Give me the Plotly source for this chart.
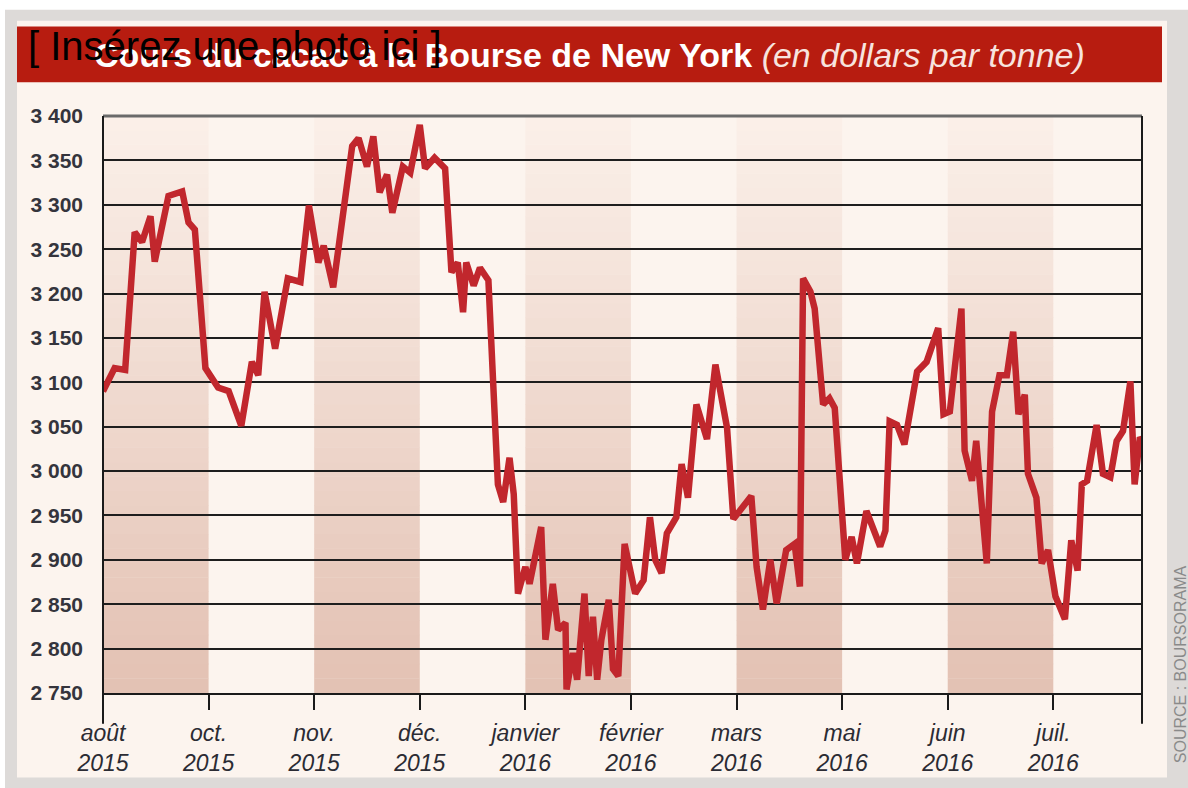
import plotly.graph_objects as go

# ---------------- data ----------------
# x position in "month-tick units" (0 = août 2015 tick, 9 = juil. 2016 tick)
x_pos = [0.00, 0.11, 0.21, 0.30, 0.37, 0.45, 0.49, 0.62, 0.75, 0.81, 0.87, 0.97,
         1.09, 1.19, 1.31, 1.41, 1.47, 1.53, 1.63, 1.75, 1.87, 1.95, 2.04, 2.09,
         2.18, 2.29, 2.36, 2.42, 2.50, 2.56, 2.62, 2.69, 2.74, 2.84, 2.91, 3.00,
         3.05, 3.14, 3.24, 3.30, 3.36, 3.41, 3.44, 3.51, 3.57, 3.65, 3.74, 3.79,
         3.85, 3.89, 3.93, 4.00, 4.04, 4.15, 4.19, 4.26, 4.31, 4.38, 4.39, 4.45,
         4.49, 4.56, 4.60, 4.64, 4.68, 4.72, 4.79, 4.83, 4.88, 4.94, 5.04, 5.12,
         5.18, 5.23, 5.29, 5.34, 5.43, 5.48, 5.54, 5.62, 5.72, 5.80, 5.91, 5.97,
         6.14, 6.19, 6.25, 6.32, 6.38, 6.47, 6.55, 6.60, 6.63, 6.70, 6.74, 6.82,
         6.88, 6.93, 7.03, 7.09, 7.14, 7.23, 7.36, 7.41, 7.45, 7.52, 7.59, 7.71,
         7.80, 7.91, 7.96, 8.02, 8.13, 8.16, 8.23, 8.27, 8.37, 8.42, 8.49, 8.56,
         8.62, 8.67, 8.73, 8.76, 8.84, 8.89, 8.95, 9.02, 9.11, 9.17, 9.23, 9.27,
         9.32, 9.41, 9.47, 9.54, 9.60, 9.66, 9.73, 9.77, 9.82, 9.87]
price = [3090, 3116, 3114, 3269, 3258, 3287, 3236, 3310, 3315, 3280, 3272, 3116,
         3094, 3090, 3051, 3123, 3108, 3202, 3138, 3217, 3213, 3299, 3235, 3254,
         3207, 3302, 3366, 3375, 3343, 3377, 3314, 3334, 3291, 3343, 3336, 3390,
         3341, 3353, 3341, 3224, 3235, 3179, 3235, 3209, 3229, 3215, 2985, 2965,
         3015, 2974, 2862, 2892, 2873, 2937, 2810, 2873, 2821, 2829, 2754, 2795,
         2765, 2862, 2769, 2836, 2765, 2810, 2855, 2777, 2769, 2918, 2862, 2877,
         2948, 2900, 2885, 2930, 2948, 3008, 2970, 3075, 3036, 3120, 3049, 2946,
         2972, 2892, 2844, 2900, 2851, 2911, 2918, 2870, 3217, 3202, 3183, 3075,
         3082, 3071, 2900, 2926, 2896, 2955, 2915, 2933, 3056, 3052, 3030, 3112,
         3123, 3161, 3064, 3067, 3183, 3023, 2989, 3034, 2896, 3067, 3108, 3108,
         3157, 3064, 3086, 2997, 2970, 2896, 2911, 2859, 2833, 2922, 2888, 2985,
         2989, 3052, 2997, 2993, 3034, 3045, 3101, 2985, 3038, 3030]

month_ticks = [0, 1, 2, 3, 4, 5, 6, 7, 8, 9]
month_labels = ["août<br>2015", "oct.<br>2015", "nov.<br>2015", "déc.<br>2015",
                "janvier<br>2016", "février<br>2016", "mars<br>2016", "mai<br>2016",
                "juin<br>2016", "juil.<br>2016"]
y_ticks = [2750, 2800, 2850, 2900, 2950, 3000, 3050, 3100, 3150, 3200, 3250,
           3300, 3350, 3400]
y_labels = [f"{v // 1000} {v % 1000:03d}" for v in y_ticks]

X_MAX = 9.84
Y_MIN, Y_MAX = 2750, 3400

# ---------------- layout helpers ----------------
W, H = 1188, 788
L, R, T, B = 103, 1142, 116, 697


def px(xp):
    return (xp - L) / (R - L)


def py(yp):
    return (B - yp) / (B - T)


shapes = []
# outer grey frame
shapes.append(dict(type="rect", xref="paper", yref="paper", x0=px(5), x1=px(W + 5),
                   y0=py(9), y1=py(H + 5), fillcolor="#dddad8", line_width=0, layer="below"))
# cream panel
shapes.append(dict(type="rect", xref="paper", yref="paper", x0=px(17), x1=px(1167),
                   y0=py(20), y1=py(782), fillcolor="#fcf4ee", line_width=0, layer="below"))
# red title bar
shapes.append(dict(type="rect", xref="paper", yref="paper", x0=px(17), x1=px(1162),
                   y0=py(26), y1=py(82), fillcolor="#b71c10", line_width=0, layer="below"))

# shaded gradient bands (every other month interval)
N = 40
c_bot = (227, 193, 179)
c_top = (251, 240, 233)
for i in range(0, len(month_ticks) - 1, 2):
    x0, x1 = month_ticks[i], month_ticks[i + 1]
    for k in range(N):
        t = (k + 0.5) / N
        col = tuple(round(c_bot[j] + (c_top[j] - c_bot[j]) * t) for j in range(3))
        shapes.append(dict(type="rect", xref="x", yref="y", x0=x0, x1=x1,
                           y0=Y_MIN + (Y_MAX - Y_MIN) * k / N,
                           y1=Y_MIN + (Y_MAX - Y_MIN) * (k + 1) / N + 0.5,
                           fillcolor=f"rgb{col}", line_width=0, layer="below"))

# top grey border line
shapes.append(dict(type="line", xref="paper", yref="paper", x0=0, x1=1, y0=1, y1=1,
                   line=dict(color="#6a6a6a", width=3), layer="above"))
# left / right vertical borders extending below the axis
for xv in (0, 1):
    shapes.append(dict(type="line", xref="paper", yref="paper", x0=xv, x1=xv,
                       y0=py(728), y1=1, line=dict(color="#1a1a1a", width=2)))

annotations = [
    dict(xref="paper", yref="paper", x=px(92), y=py(55), xanchor="left", yanchor="middle",
         showarrow=False,
         text="<b>Cours du cacao à la Bourse de New York</b> "
              "<span style='color:#f7e4df'><i>(en dollars par tonne)</i></span>",
         font=dict(family="Liberation Sans, Arial, sans-serif", size=34, color="#ffffff")),
    dict(xref="paper", yref="paper", x=px(26), y=py(46), xanchor="left", yanchor="middle",
         showarrow=False, text="[ Insérez une photo ici ]",
         font=dict(family="Liberation Sans, Arial, sans-serif", size=40, color="#000000")),
    dict(xref="paper", yref="paper", x=px(1180), y=py(668), xanchor="center", yanchor="middle",
         showarrow=False, textangle=-90, text="SOURCE : BOURSORAMA",
         font=dict(family="Liberation Sans, Arial, sans-serif", size=16, color="#8a8a8a")),
]

fig = go.Figure()
fig.add_trace(go.Scatter(x=x_pos, y=price, mode="lines",
                         line=dict(color="#c1272d", width=6.5),
                         hoverinfo="skip", showlegend=False))

fig.update_layout(
    width=W, height=H,
    margin=dict(l=L, r=W - R, t=T, b=H - B, pad=0),
    paper_bgcolor="#ffffff",
    plot_bgcolor="rgba(0,0,0,0)",
    shapes=shapes,
    annotations=annotations,
    showlegend=False,
    xaxis=dict(range=[0, X_MAX], showgrid=False, zeroline=False,
               showline=True, linecolor="#1a1a1a", linewidth=2,
               tickvals=month_ticks, ticktext=month_labels,
               ticks="outside", ticklen=15, tickwidth=2, tickcolor="#1a1a1a",
               tickfont=dict(family="Liberation Sans Narrow, Arial Narrow, Liberation Sans, sans-serif",
                             size=23, color="#2b2b33", style="italic"),
               ticklabelstandoff=3, fixedrange=True),
    yaxis=dict(range=[Y_MIN, Y_MAX], showgrid=True, gridcolor="#1e1e1e", gridwidth=2,
               zeroline=False, showline=False,
               tickvals=y_ticks, ticktext=y_labels, ticks="",
               tickfont=dict(family="Liberation Sans, Arial, sans-serif", size=21,
                             color="#34343c", weight="bold"),
               ticklabelstandoff=19, fixedrange=True),
)

fig.write_html("out.html", config={"displayModeBar": False},
               post_script="document.body.style.margin='0';document.body.style.padding='0';")
